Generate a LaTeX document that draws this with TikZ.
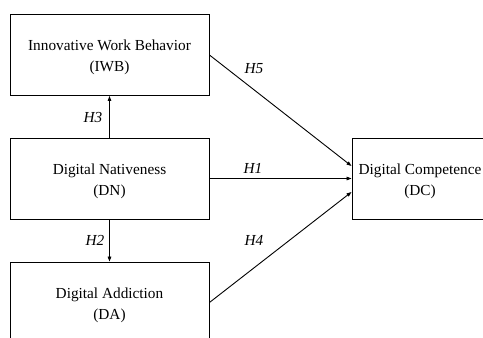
\documentclass[tikz,border=0pt]{standalone}
\usepackage{fontspec}
\setmainfont{Liberation Serif}
\usetikzlibrary{arrows.meta}
% strut that lowers a two-line caption a little inside its box
\newcommand{\capstrut}{\rule{0pt}{15.5pt}}
\begin{document}
\begin{tikzpicture}[x=1pt,y=-1pt,
  construct/.style={draw=black,line width=0.95pt,rectangle,inner sep=0pt,
    minimum width=199pt,minimum height=81pt,align=center,
    font=\fontsize{15.3pt}{21pt}\selectfont},
  path/.style={draw=black,line width=0.9pt,-{Triangle[length=5pt,width=3.6pt]}},
  hyp/.style={font=\fontsize{15.3pt}{18pt}\selectfont\itshape,inner sep=0pt}]
  \useasboundingbox (0,0) rectangle (483,338);
  \clip (0,0) rectangle (483,338);
  % constructs
  \node[construct] (iwb) at (109.5,55) {\capstrut Innovative Work Behavior\\(IWB)};
  \node[construct] (dn) at (109.5,178.5) {\capstrut Digital Nativeness\\(DN)};
  \node[construct] (da) at (109.5,302.5) {\capstrut Digital Addiction\\(DA)};
  \node[construct,minimum width=136pt] (dc) at (420,178.5) {\capstrut Digital Competence\\(DC)};
  % hypothesised paths
  \draw[path] (dn.north) -- (iwb.south);
  \draw[path] (dn.south) -- (da.north);
  \draw[path] (iwb.east) -- ([yshift=12.5pt]dc.west);
  \draw[path] (dn.east) -- (dc.west);
  \draw[path] (da.east) -- ([yshift=-13.5pt]dc.west);
  % hypothesis labels
  \node[hyp] (h5) at (254,69) {H5};
  \node[hyp] (h1) at (253,168) {H1};
  \node[hyp] (h4) at (254,240) {H4};
  \node[hyp] (h3) at (93,118) {H3};
  \node[hyp] (h2) at (95,240) {H2};
\end{tikzpicture}
\end{document}
